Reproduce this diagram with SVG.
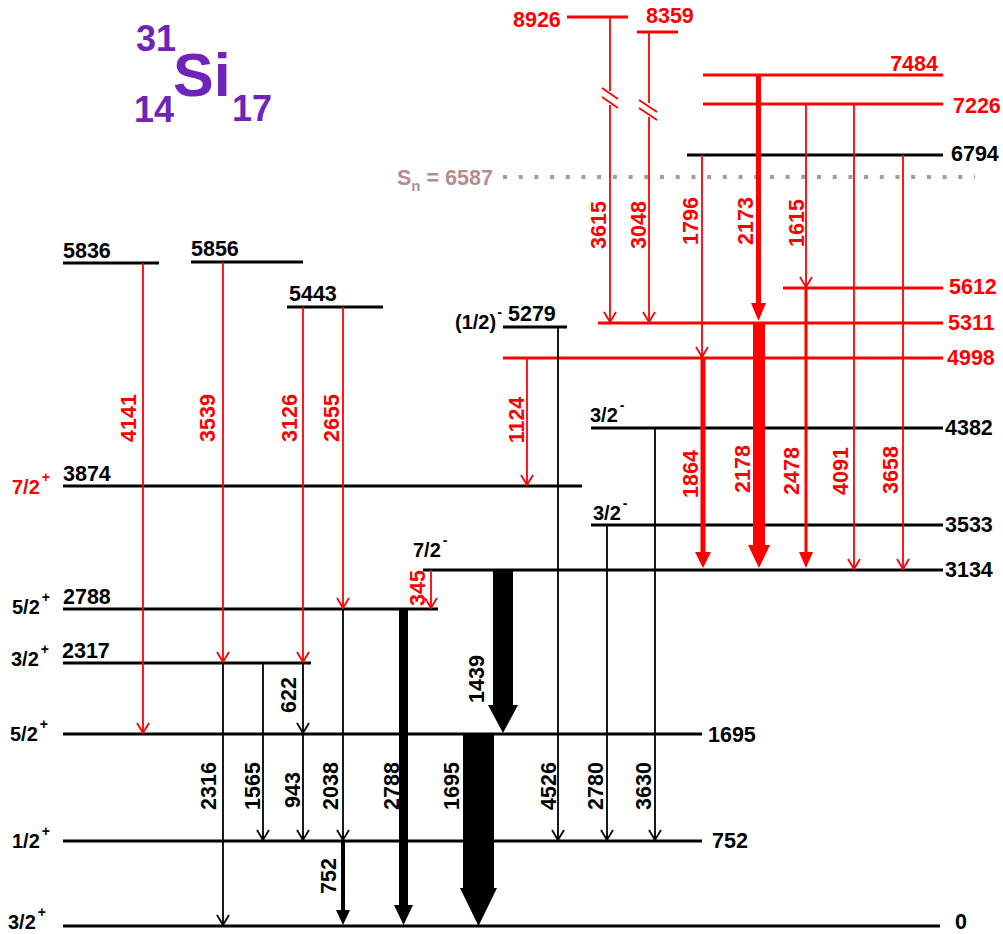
<svg xmlns="http://www.w3.org/2000/svg" width="1003" height="934" viewBox="0 0 1003 934">
<style>
text{font-family:"Liberation Sans",Arial,Helvetica,sans-serif;font-weight:bold;font-size:21.5px}
.k{fill:#000}.r{fill:#f00}
.sp{font-size:20px}
.su{font-size:14px}
.lk{stroke:#000;stroke-width:3}
.lr{stroke:#f00;stroke-width:3}
.tk{stroke:#000;stroke-width:1.8;fill:none}
.tr{stroke:#f00;stroke-width:1.8;fill:none}
.ttl{fill:#7023b9}
text.big{font-size:61px}
text.mid{font-size:36px}
</style>
<defs>
<marker id="ak" markerUnits="userSpaceOnUse" markerWidth="20" markerHeight="20" refX="0" refY="0" orient="auto" overflow="visible"><path d="M-10,-6 L0,0 L-10,6" fill="none" stroke="#000" stroke-width="1.8"/></marker>
<marker id="ar" markerUnits="userSpaceOnUse" markerWidth="20" markerHeight="20" refX="0" refY="0" orient="auto" overflow="visible"><path d="M-10,-6 L0,0 L-10,6" fill="none" stroke="#f00" stroke-width="1.8"/></marker>
</defs>
<rect width="1003" height="934" fill="#fff"/>
<g id="title">
<text x="136" y="51" class="ttl mid">31</text>
<text x="173" y="96" class="ttl big">Si</text>
<text x="134" y="122" class="ttl mid">14</text>
<text x="232" y="121" class="ttl mid">17</text>
</g>
<g id="levels">
<g id="lv0"><line class="lk" x1="63" y1="926" x2="940" y2="926"/><text class="k" x="955" y="929">0</text><text class="k sp" x="8" y="929">3/2<tspan class="su" dx="2" dy="-12">+</tspan></text></g>
<g id="lv752"><line class="lk" x1="63" y1="841" x2="702" y2="841"/><text class="k" x="712" y="848">752</text><text class="k sp" x="12" y="848">1/2<tspan class="su" dx="2" dy="-12">+</tspan></text></g>
<g id="lv1695"><line class="lk" x1="63" y1="734" x2="702" y2="734"/><text class="k" x="708" y="742">1695</text><text class="k sp" x="10" y="741">5/2<tspan class="su" dx="2" dy="-12">+</tspan></text></g>
<g id="lv2317"><line class="lk" x1="63" y1="663" x2="311" y2="663"/><text class="k" x="62" y="658">2317</text><text class="k sp" x="11" y="666">3/2<tspan class="su" dx="2" dy="-12">+</tspan></text></g>
<g id="lv2788"><line class="lk" x1="63" y1="609" x2="438" y2="609"/><text class="k" x="63" y="604">2788</text><text class="k sp" x="12" y="614">5/2<tspan class="su" dx="2" dy="-12">+</tspan></text></g>
<g id="lv3134"><line class="lk" x1="423" y1="570" x2="943" y2="570"/><text class="k" x="945" y="577">3134</text><text class="k sp" x="413" y="557">7/2<tspan class="su" dx="2" dy="-12">-</tspan></text></g>
<g id="lv3533"><line class="lk" x1="591" y1="525" x2="943" y2="525"/><text class="k" x="945" y="532">3533</text><text class="k sp" x="593" y="520">3/2<tspan class="su" dx="2" dy="-12">-</tspan></text></g>
<g id="lv3874"><line class="lk" x1="63" y1="486" x2="582" y2="486"/><text class="k" x="63" y="481">3874</text><text class="r sp" x="12" y="494">7/2<tspan class="su" dx="2" dy="-12">+</tspan></text></g>
<g id="lv4382"><line class="lk" x1="591" y1="428" x2="943" y2="428"/><text class="k" x="945" y="435">4382</text><text class="k sp" x="590" y="422">3/2<tspan class="su" dx="2" dy="-12">-</tspan></text></g>
<g id="lv4998"><line class="lr" x1="503" y1="358" x2="943" y2="358"/><text class="r" x="947" y="365">4998</text></g>
<g id="lv5279"><line class="lk" x1="503" y1="327" x2="567" y2="327"/><text class="k" x="508" y="321">5279</text><text class="k sp" x="455" y="329">(1/2)<tspan class="su" dx="1" dy="-12">-</tspan></text></g>
<g id="lv5311"><line class="lr" x1="598" y1="323" x2="943" y2="323"/><text class="r" x="948" y="330">5311</text></g>
<g id="lv5443"><line class="lk" x1="287" y1="307" x2="383" y2="307"/><text class="k" x="289" y="301">5443</text></g>
<g id="lv5612"><line class="lr" x1="783" y1="288" x2="943" y2="288"/><text class="r" x="949" y="294">5612</text></g>
<g id="lv5836"><line class="lk" x1="63" y1="263" x2="159" y2="263"/><text class="k" x="63" y="258">5836</text></g>
<g id="lv5856"><line class="lk" x1="191" y1="262" x2="303" y2="262"/><text class="k" x="191" y="256">5856</text></g>
<g id="lv6794"><line class="lk" x1="687" y1="155" x2="943" y2="155"/><text class="k" x="951" y="161">6794</text></g>
<g id="sn"><line x1="503" y1="177" x2="975" y2="177" stroke="#b89494" stroke-width="4" stroke-dasharray="4 11.7"/><text x="397" y="185" fill="#b48e8e">S<tspan font-size="15" dy="6">n</tspan><tspan dy="-6"> = 6587</tspan></text></g>
<g id="lv7226"><line class="lr" x1="703" y1="104" x2="943" y2="104"/><text class="r" x="953" y="113">7226</text></g>
<g id="lv7484"><line class="lr" x1="703" y1="75" x2="943" y2="75"/><text class="r" x="938" y="71" text-anchor="end">7484</text></g>
<g id="lv8359"><line class="lr" x1="637" y1="32" x2="678" y2="32"/><text class="r" x="646" y="23">8359</text></g>
<g id="lv8926"><line class="lr" x1="567" y1="17" x2="628" y2="17"/><text class="r" x="513" y="27">8926</text></g>
</g>
<g id="connectors">
<line class="tr" x1="610" y1="17" x2="610" y2="91"/>
<line class="tr" x1="610" y1="105" x2="610" y2="322" marker-end="url(#ar)"/>
<line class="tr" x1="602" y1="88" x2="618" y2="99"/><line class="tr" x1="602" y1="97" x2="618" y2="108"/>
<line class="tr" x1="649" y1="32" x2="649" y2="103"/>
<line class="tr" x1="649" y1="117" x2="649" y2="322" marker-end="url(#ar)"/>
<line class="tr" x1="639" y1="100" x2="657" y2="112"/><line class="tr" x1="639" y1="108" x2="657" y2="120"/>
<line class="tr" x1="702" y1="155" x2="702" y2="357" marker-end="url(#ar)"/>
<line class="tr" x1="806" y1="104" x2="806" y2="287" marker-end="url(#ar)"/>
<line class="tr" x1="854" y1="104" x2="854" y2="569" marker-end="url(#ar)"/>
<line class="tr" x1="903" y1="155" x2="903" y2="569" marker-end="url(#ar)"/>
<line class="tr" x1="527" y1="358" x2="527" y2="485" marker-end="url(#ar)"/>
<line class="tr" x1="143" y1="263" x2="143" y2="733" marker-end="url(#ar)"/>
<line class="tr" x1="223" y1="262" x2="223" y2="662" marker-end="url(#ar)"/>
<line class="tr" x1="303" y1="307" x2="303" y2="662" marker-end="url(#ar)"/>
<line class="tr" x1="343" y1="307" x2="343" y2="608" marker-end="url(#ar)"/>
<line class="tr" x1="431" y1="570" x2="431" y2="608" marker-end="url(#ar)"/>
<path class="r" d="M756,75 H761 V303 H766 L758.5,321 L751,303 H756 Z"/>
<path class="r" d="M753,323 H765 V545 H770 L759,568 L748,545 H753 Z"/>
<path class="r" d="M700.5,358 H705.5 V552 H711 L703,568 L695,552 H700.5 Z"/>
<path class="r" d="M804.5,288 H807.5 V552 H813 L806,568 L799,552 H804.5 Z"/>
<line class="tk" x1="558" y1="327" x2="558" y2="840" marker-end="url(#ak)"/>
<line class="tk" x1="655" y1="428" x2="655" y2="840" marker-end="url(#ak)"/>
<line class="tk" x1="607" y1="525" x2="607" y2="840" marker-end="url(#ak)"/>
<line class="tk" x1="223" y1="663" x2="223" y2="925" marker-end="url(#ak)"/>
<line class="tk" x1="263" y1="663" x2="263" y2="840" marker-end="url(#ak)"/>
<line class="tk" x1="303" y1="663" x2="303" y2="733" marker-end="url(#ak)"/>
<line class="tk" x1="303" y1="734" x2="303" y2="840" stroke-width="2.8" marker-end="url(#ak)"/>
<line class="tk" x1="343" y1="609" x2="343" y2="840" marker-end="url(#ak)"/>
<path class="k" d="M341,841 H345 V910 H350 L343,925 L336,910 H341 Z"/>
<path class="k" d="M399,609 H408 V905 H413 L403.5,925 L394,905 H399 Z"/>
<path class="k" d="M463,734 H494 V888 H497 L478.5,926 L460,888 H463 Z"/>
<path class="k" d="M493,570 H513 V705 H518 L503,733 L488,705 H493 Z"/>
<g class="r" text-anchor="middle">
<text transform="translate(598,225) rotate(-90)" y="7.5">3615</text>
<text transform="translate(638,225) rotate(-90)" y="7.5">3048</text>
<text transform="translate(690,221) rotate(-90)" y="7.5">1796</text>
<text transform="translate(745,221) rotate(-90)" y="7.5">2173</text>
<text transform="translate(796,223) rotate(-90)" y="7.5">1615</text>
<text transform="translate(690,474) rotate(-90)" y="7.5">1864</text>
<text transform="translate(742,469) rotate(-90)" y="7.5">2178</text>
<text transform="translate(791,471) rotate(-90)" y="7.5">2478</text>
<text transform="translate(840,471) rotate(-90)" y="7.5">4091</text>
<text transform="translate(890,470) rotate(-90)" y="7.5">3658</text>
<text transform="translate(516,420) rotate(-90)" y="7.5">1124</text>
<text transform="translate(128,418) rotate(-90)" y="7.5">4141</text>
<text transform="translate(207,418) rotate(-90)" y="7.5">3539</text>
<text transform="translate(289,418) rotate(-90)" y="7.5">3126</text>
<text transform="translate(331,418) rotate(-90)" y="7.5">2655</text>
<text transform="translate(417,588) rotate(-90)" y="7.5">345</text>
</g>
<g class="k" text-anchor="middle">
<text transform="translate(288,695) rotate(-90)" y="7.5">622</text>
<text transform="translate(476,679) rotate(-90)" y="7.5">1439</text>
<text transform="translate(208,786) rotate(-90)" y="7.5">2316</text>
<text transform="translate(252,786) rotate(-90)" y="7.5">1565</text>
<text transform="translate(292,790) rotate(-90)" y="7.5">943</text>
<text transform="translate(330,786) rotate(-90)" y="7.5">2038</text>
<text transform="translate(391,786) rotate(-90)" y="7.5">2788</text>
<text transform="translate(451,786) rotate(-90)" y="7.5">1695</text>
<text transform="translate(548,786) rotate(-90)" y="7.5">4526</text>
<text transform="translate(595,786) rotate(-90)" y="7.5">2780</text>
<text transform="translate(643,786) rotate(-90)" y="7.5">3630</text>
<text transform="translate(328,876) rotate(-90)" y="7.5">752</text>
</g>
</g>
</svg>
